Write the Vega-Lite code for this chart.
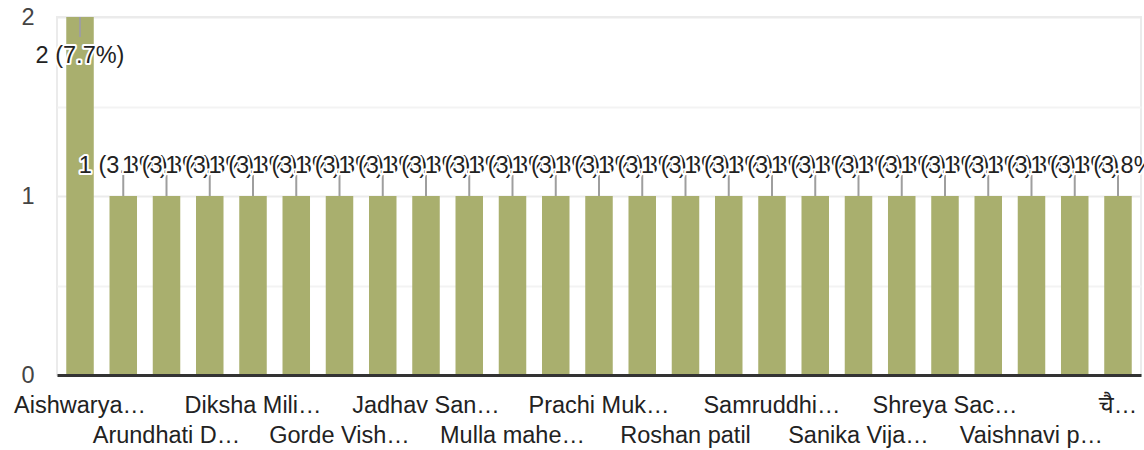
{
  "$schema": "https://vega.github.io/schema/vega-lite/v6.json",
  "width": 1084,
  "height": 358,
  "autosize": "none",
  "padding": {"left": 57, "top": 17, "right": 3, "bottom": 75},
  "background": "white",
  "view": {"stroke": "#ebebeb", "strokeWidth": 2},
  "config": {
    "font": "Liberation Sans, Arial, Noto Sans, sans-serif",
    "text": {"font": "Liberation Sans, Arial, Noto Sans, sans-serif", "fontSize": 23.5, "align": "center", "baseline": "alphabetic"},
    "axisY": {"labelOverlap": false}
  },
  "data": {
    "values": [
      {"name": "Aishwarya…", "count": 2},
      {"name": "Anjali Kadam", "count": 1},
      {"name": "Arundhati D…", "count": 1},
      {"name": "Bhakti Shinde", "count": 1},
      {"name": "Diksha Mili…", "count": 1},
      {"name": "Gaikwad Sneha", "count": 1},
      {"name": "Gorde Vish…", "count": 1},
      {"name": "Isha Pawar", "count": 1},
      {"name": "Jadhav San…", "count": 1},
      {"name": "Kajal More", "count": 1},
      {"name": "Mulla mahe…", "count": 1},
      {"name": "Pooja Jagtap", "count": 1},
      {"name": "Prachi Muk…", "count": 1},
      {"name": "Riya Deshmukh", "count": 1},
      {"name": "Roshan patil", "count": 1},
      {"name": "Sakshi Mane", "count": 1},
      {"name": "Samruddhi…", "count": 1},
      {"name": "Sanchita Patil", "count": 1},
      {"name": "Sanika Vija…", "count": 1},
      {"name": "Shravani Jadhav", "count": 1},
      {"name": "Shreya Sac…", "count": 1},
      {"name": "Snehal Kale", "count": 1},
      {"name": "Vaishnavi p…", "count": 1},
      {"name": "Yash Gaikwad", "count": 1},
      {"name": "चै…", "count": 1}
    ]
  },
  "transform": [
    {"joinaggregate": [{"op": "sum", "field": "count", "as": "total"}]},
    {"calculate": "datum.count + ' (' + format(datum.count / datum.total, '.1%') + ')'", "as": "label"}
  ],
  "encoding": {
    "x": {
      "field": "name",
      "type": "nominal",
      "sort": null,
      "scale": {"paddingInner": 0.364, "paddingOuter": 0.214},
      "axis": {
        "title": null,
        "ticks": false,
        "tickSize": 0,
        "labelAngle": 0,
        "labelOverlap": false,
        "labelBound": false,
        "labelFlush": false,
        "labelPadding": 18,
        "labelBaseline": "top",
        "labelLineHeight": 30,
        "labelFont": "Liberation Sans, Arial, Noto Sans, sans-serif",
        "labelFontSize": 23.5,
        "labelColor": "#222222",
        "labelLimit": 300,
        "domainColor": "#333333",
        "domainWidth": 3,
        "zindex": 1,
        "labelExpr": "indexof(['Aishwarya…','Diksha Mili…','Jadhav San…','Prachi Muk…','Samruddhi…','Shreya Sac…','चै…'], datum.value) >= 0 ? datum.label : (indexof(['Arundhati D…','Gorde Vish…','Mulla mahe…','Roshan patil','Sanika Vija…','Vaishnavi p…'], datum.value) >= 0 ? [' ', datum.label] : '')"
      }
    },
    "y": {
      "field": "count",
      "type": "quantitative",
      "scale": {"domain": [0, 2], "nice": false},
      "axis": {
        "title": null,
        "values": [0, 0.5, 1, 1.5, 2],
        "labelExpr": "datum.value == 0 ? '0' : (datum.value == 1 ? '1' : (datum.value == 2 ? '2' : ''))",
        "labelOverlap": false,
        "labelBound": false,
        "labelFlush": false,
        "ticks": false,
        "domain": false,
        "grid": true,
        "gridWidth": 2,
        "gridColor": {"condition": {"test": "datum.value % 1 != 0", "value": "#f3f3f3"}, "value": "#ebebeb"},
        "labelPadding": 23,
        "labelFont": "Liberation Sans, Arial, sans-serif",
        "labelFontSize": 23.5,
        "labelColor": "#444444",
        "labelBaseline": "middle"
      }
    }
  },
  "layer": [
    {"mark": {"type": "bar", "color": "#a9af6e"}},
    {"transform": [{"filter": "datum.count == 1"}], "mark": {"type": "rule", "color": "#9e9e9e", "strokeWidth": 2, "y2Offset": -25}, "encoding": {"y2": {"field": "count"}}},
    {"transform": [{"filter": "datum.count == 2"}], "mark": {"type": "rule", "color": "#9e9e9e", "strokeWidth": 2, "y2Offset": 20}, "encoding": {"y2": {"field": "count"}}},
    {
      "encoding": {"text": {"field": "label"}},
      "layer": [
        {"transform": [{"filter": "datum.count == 2"}], "layer": [
          {"mark": {"type": "text", "dy": 46, "fill": "white", "stroke": "white", "strokeWidth": 4, "strokeJoin": "round"}},
          {"mark": {"type": "text", "dy": 46, "fill": "#222222"}}
        ]},
        {"transform": [{"filter": {"field": "name", "equal": "Anjali Kadam"}}], "layer": [
          {"mark": {"type": "text", "dy": -23, "fill": "white", "stroke": "white", "strokeWidth": 4, "strokeJoin": "round"}},
          {"mark": {"type": "text", "dy": -23, "fill": "#222222"}}
        ]},
        {"transform": [{"filter": {"field": "name", "equal": "Arundhati D…"}}], "layer": [
          {"mark": {"type": "text", "dy": -23, "fill": "white", "stroke": "white", "strokeWidth": 4, "strokeJoin": "round"}},
          {"mark": {"type": "text", "dy": -23, "fill": "#222222"}}
        ]},
        {"transform": [{"filter": {"field": "name", "equal": "Bhakti Shinde"}}], "layer": [
          {"mark": {"type": "text", "dy": -23, "fill": "white", "stroke": "white", "strokeWidth": 4, "strokeJoin": "round"}},
          {"mark": {"type": "text", "dy": -23, "fill": "#222222"}}
        ]},
        {"transform": [{"filter": {"field": "name", "equal": "Diksha Mili…"}}], "layer": [
          {"mark": {"type": "text", "dy": -23, "fill": "white", "stroke": "white", "strokeWidth": 4, "strokeJoin": "round"}},
          {"mark": {"type": "text", "dy": -23, "fill": "#222222"}}
        ]},
        {"transform": [{"filter": {"field": "name", "equal": "Gaikwad Sneha"}}], "layer": [
          {"mark": {"type": "text", "dy": -23, "fill": "white", "stroke": "white", "strokeWidth": 4, "strokeJoin": "round"}},
          {"mark": {"type": "text", "dy": -23, "fill": "#222222"}}
        ]},
        {"transform": [{"filter": {"field": "name", "equal": "Gorde Vish…"}}], "layer": [
          {"mark": {"type": "text", "dy": -23, "fill": "white", "stroke": "white", "strokeWidth": 4, "strokeJoin": "round"}},
          {"mark": {"type": "text", "dy": -23, "fill": "#222222"}}
        ]},
        {"transform": [{"filter": {"field": "name", "equal": "Isha Pawar"}}], "layer": [
          {"mark": {"type": "text", "dy": -23, "fill": "white", "stroke": "white", "strokeWidth": 4, "strokeJoin": "round"}},
          {"mark": {"type": "text", "dy": -23, "fill": "#222222"}}
        ]},
        {"transform": [{"filter": {"field": "name", "equal": "Jadhav San…"}}], "layer": [
          {"mark": {"type": "text", "dy": -23, "fill": "white", "stroke": "white", "strokeWidth": 4, "strokeJoin": "round"}},
          {"mark": {"type": "text", "dy": -23, "fill": "#222222"}}
        ]},
        {"transform": [{"filter": {"field": "name", "equal": "Kajal More"}}], "layer": [
          {"mark": {"type": "text", "dy": -23, "fill": "white", "stroke": "white", "strokeWidth": 4, "strokeJoin": "round"}},
          {"mark": {"type": "text", "dy": -23, "fill": "#222222"}}
        ]},
        {"transform": [{"filter": {"field": "name", "equal": "Mulla mahe…"}}], "layer": [
          {"mark": {"type": "text", "dy": -23, "fill": "white", "stroke": "white", "strokeWidth": 4, "strokeJoin": "round"}},
          {"mark": {"type": "text", "dy": -23, "fill": "#222222"}}
        ]},
        {"transform": [{"filter": {"field": "name", "equal": "Pooja Jagtap"}}], "layer": [
          {"mark": {"type": "text", "dy": -23, "fill": "white", "stroke": "white", "strokeWidth": 4, "strokeJoin": "round"}},
          {"mark": {"type": "text", "dy": -23, "fill": "#222222"}}
        ]},
        {"transform": [{"filter": {"field": "name", "equal": "Prachi Muk…"}}], "layer": [
          {"mark": {"type": "text", "dy": -23, "fill": "white", "stroke": "white", "strokeWidth": 4, "strokeJoin": "round"}},
          {"mark": {"type": "text", "dy": -23, "fill": "#222222"}}
        ]},
        {"transform": [{"filter": {"field": "name", "equal": "Riya Deshmukh"}}], "layer": [
          {"mark": {"type": "text", "dy": -23, "fill": "white", "stroke": "white", "strokeWidth": 4, "strokeJoin": "round"}},
          {"mark": {"type": "text", "dy": -23, "fill": "#222222"}}
        ]},
        {"transform": [{"filter": {"field": "name", "equal": "Roshan patil"}}], "layer": [
          {"mark": {"type": "text", "dy": -23, "fill": "white", "stroke": "white", "strokeWidth": 4, "strokeJoin": "round"}},
          {"mark": {"type": "text", "dy": -23, "fill": "#222222"}}
        ]},
        {"transform": [{"filter": {"field": "name", "equal": "Sakshi Mane"}}], "layer": [
          {"mark": {"type": "text", "dy": -23, "fill": "white", "stroke": "white", "strokeWidth": 4, "strokeJoin": "round"}},
          {"mark": {"type": "text", "dy": -23, "fill": "#222222"}}
        ]},
        {"transform": [{"filter": {"field": "name", "equal": "Samruddhi…"}}], "layer": [
          {"mark": {"type": "text", "dy": -23, "fill": "white", "stroke": "white", "strokeWidth": 4, "strokeJoin": "round"}},
          {"mark": {"type": "text", "dy": -23, "fill": "#222222"}}
        ]},
        {"transform": [{"filter": {"field": "name", "equal": "Sanchita Patil"}}], "layer": [
          {"mark": {"type": "text", "dy": -23, "fill": "white", "stroke": "white", "strokeWidth": 4, "strokeJoin": "round"}},
          {"mark": {"type": "text", "dy": -23, "fill": "#222222"}}
        ]},
        {"transform": [{"filter": {"field": "name", "equal": "Sanika Vija…"}}], "layer": [
          {"mark": {"type": "text", "dy": -23, "fill": "white", "stroke": "white", "strokeWidth": 4, "strokeJoin": "round"}},
          {"mark": {"type": "text", "dy": -23, "fill": "#222222"}}
        ]},
        {"transform": [{"filter": {"field": "name", "equal": "Shravani Jadhav"}}], "layer": [
          {"mark": {"type": "text", "dy": -23, "fill": "white", "stroke": "white", "strokeWidth": 4, "strokeJoin": "round"}},
          {"mark": {"type": "text", "dy": -23, "fill": "#222222"}}
        ]},
        {"transform": [{"filter": {"field": "name", "equal": "Shreya Sac…"}}], "layer": [
          {"mark": {"type": "text", "dy": -23, "fill": "white", "stroke": "white", "strokeWidth": 4, "strokeJoin": "round"}},
          {"mark": {"type": "text", "dy": -23, "fill": "#222222"}}
        ]},
        {"transform": [{"filter": {"field": "name", "equal": "Snehal Kale"}}], "layer": [
          {"mark": {"type": "text", "dy": -23, "fill": "white", "stroke": "white", "strokeWidth": 4, "strokeJoin": "round"}},
          {"mark": {"type": "text", "dy": -23, "fill": "#222222"}}
        ]},
        {"transform": [{"filter": {"field": "name", "equal": "Vaishnavi p…"}}], "layer": [
          {"mark": {"type": "text", "dy": -23, "fill": "white", "stroke": "white", "strokeWidth": 4, "strokeJoin": "round"}},
          {"mark": {"type": "text", "dy": -23, "fill": "#222222"}}
        ]},
        {"transform": [{"filter": {"field": "name", "equal": "Yash Gaikwad"}}], "layer": [
          {"mark": {"type": "text", "dy": -23, "fill": "white", "stroke": "white", "strokeWidth": 4, "strokeJoin": "round"}},
          {"mark": {"type": "text", "dy": -23, "fill": "#222222"}}
        ]},
        {"transform": [{"filter": {"field": "name", "equal": "चै…"}}], "layer": [
          {"mark": {"type": "text", "dy": -23, "fill": "white", "stroke": "white", "strokeWidth": 4, "strokeJoin": "round"}},
          {"mark": {"type": "text", "dy": -23, "fill": "#222222"}}
        ]}
      ]
    }
  ]
}
